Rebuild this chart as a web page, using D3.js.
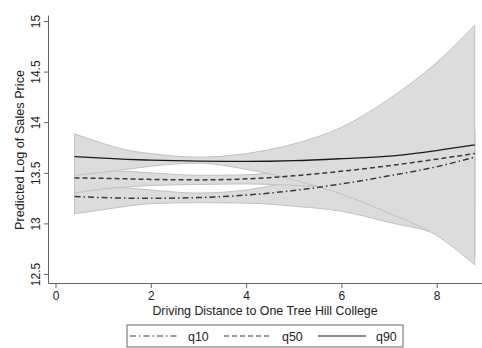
<!DOCTYPE html>
<html>
<head>
<meta charset="utf-8">
<script src="https://cdn.jsdelivr.net/npm/d3@7"></script>
<style>
  body { margin: 0; background: #fff; }
  text { font-family: "Liberation Sans", Arial, sans-serif; fill: #222; }
</style>
</head>
<body>
<svg id="chart"></svg>
<script>
// driving distance grid and predictions
const distance = [0.4, 1, 1.5, 2, 3, 4, 4.5, 5, 6, 7, 8, 8.8];

const q10   = [13.265, 13.255, 13.25, 13.248, 13.255, 13.28, 13.30, 13.325, 13.39, 13.47, 13.56, 13.655];
const q10Lo = [13.095, 13.135, 13.17, 13.195, 13.205, 13.20, 13.19, 13.17, 13.12, 13.01, 12.89, 12.66];
const q10Hi = [13.375, 13.36, 13.35, 13.33, 13.30, 13.33, 13.37, 13.41, 13.50, 13.62, 13.77, 13.92];

const q50   = [13.45, 13.445, 13.44, 13.435, 13.43, 13.44, 13.452, 13.47, 13.515, 13.57, 13.635, 13.69];
const q50Lo = [13.30, 13.34, 13.36, 13.375, 13.385, 13.39, 13.385, 13.375, 13.35, 13.30, 13.22, 13.15];
const q50Hi = [13.56, 13.525, 13.515, 13.50, 13.475, 13.48, 13.50, 13.53, 13.61, 13.70, 13.80, 13.89];

const q90   = [13.66, 13.645, 13.633, 13.625, 13.615, 13.612, 13.614, 13.62, 13.64, 13.665, 13.72, 13.775];
const q90Lo = [13.475, 13.505, 13.535, 13.565, 13.595, 13.535, 13.49, 13.43, 13.29, 13.10, 12.88, 12.59];
const q90Hi = [13.885, 13.79, 13.725, 13.69, 13.655, 13.69, 13.73, 13.785, 13.95, 14.23, 14.59, 14.96];

const xTicks = [0, 2, 4, 6, 8];
const yTicks = [12.5, 13, 13.5, 14, 14.5, 15];
const legendNames = ['q10', 'q50', 'q90'];

const width = 482, height = 348;

const svg = d3.select('#chart')
    .attr('width', width)
    .attr('height', height);

const xScale = d3.scaleLinear()
    .domain([-0.1574, 8.9507])
    .range([48, 482]);

const yScale = d3.scaleLinear()
    .domain([12.4111, 15.0593])
    .range([283, 15]);

const series = [
    { name: 'q10', mid: q10, lo: q10Lo, hi: q10Hi, dash: '6,3,1.5,3', stroke: '#3a3a3a', w: 1.5 },
    { name: 'q50', mid: q50, lo: q50Lo, hi: q50Hi, dash: '5,3', stroke: '#3a3a3a', w: 1.5 },
    { name: 'q90', mid: q90, lo: q90Lo, hi: q90Hi, dash: null, stroke: '#1a1a1a', w: 1.3 }
];

const area = d3.area()
    .x(d => xScale(d.x))
    .y0(d => yScale(d.lo))
    .y1(d => yScale(d.hi))
    .curve(d3.curveMonotoneX);

const line = d3.line()
    .x(d => xScale(d.x))
    .y(d => yScale(d.y))
    .curve(d3.curveMonotoneX);

const plot = svg.append('g');

// confidence bands first, in order, so later bands cover earlier outlines
series.forEach(s => {
    const pts = distance.map((x, i) => ({ x: x, lo: s.lo[i], hi: s.hi[i] }));
    plot.append('path')
        .attr('d', area(pts))
        .attr('fill', '#dcdcdc')
        .attr('stroke', '#c2c2c2')
        .attr('stroke-width', 1);
});

series.forEach(s => {
    const pts = distance.map((x, i) => ({ x: x, y: s.mid[i] }));
    plot.append('path')
        .attr('d', line(pts))
        .attr('fill', 'none')
        .attr('stroke', s.stroke)
        .attr('stroke-width', s.w)
        .attr('stroke-dasharray', s.dash);
});

// axes
const xAxis = d3.axisBottom(xScale)
    .tickValues(xTicks)
    .tickFormat(d3.format('d'))
    .tickSize(5)
    .tickSizeOuter(0)
    .tickPadding(3);

const yAxis = d3.axisLeft(yScale)
    .tickValues(yTicks)
    .tickFormat(d => String(d))
    .tickSize(4)
    .tickSizeOuter(0);

const xAxisG = svg.append('g')
    .attr('transform', 'translate(0,283)')
    .call(xAxis);

const yAxisG = svg.append('g')
    .attr('transform', 'translate(48,0)')
    .call(yAxis);

[xAxisG, yAxisG].forEach(g => {
    g.select('.domain').attr('stroke', '#666');
    g.selectAll('.tick line').attr('stroke', '#666');
    g.selectAll('.tick text')
        .attr('fill', '#222')
        .attr('font-size', 12)
        .attr('font-family', '"Liberation Sans", Arial, sans-serif');
});

// rotated y tick labels, Stata style
yAxisG.selectAll('.tick text')
    .attr('transform', 'rotate(-90)')
    .attr('text-anchor', 'middle')
    .attr('x', 0)
    .attr('y', -8.5)
    .attr('dy', null);

svg.append('text')
    .attr('x', 265)
    .attr('y', 314.5)
    .attr('text-anchor', 'middle')
    .attr('font-size', 12.4)
    .text('Driving Distance to One Tree Hill College');

svg.append('text')
    .attr('transform', 'translate(24,150) rotate(-90)')
    .attr('text-anchor', 'middle')
    .attr('font-size', 12.7)
    .text('Predicted Log of Sales Price');

// legend
const legend = svg.append('g');
legend.append('rect')
    .attr('x', 127)
    .attr('y', 325)
    .attr('width', 276)
    .attr('height', 22)
    .attr('fill', '#fff')
    .attr('stroke', '#666')
    .attr('stroke-width', 1);

legendNames.forEach((name, i) => {
    const s = series.find(d => d.name === name);
    const x0 = 130 + i * 94;
    legend.append('line')
        .attr('x1', x0)
        .attr('x2', x0 + 48)
        .attr('y1', 336)
        .attr('y2', 336)
        .attr('stroke', s.stroke)
        .attr('stroke-width', 1.2)
        .attr('stroke-dasharray', s.dash);
    legend.append('text')
        .attr('x', x0 + 58)
        .attr('y', 340.5)
        .attr('font-size', 12.4)
        .text(name);
});
</script>
</body>
</html>
